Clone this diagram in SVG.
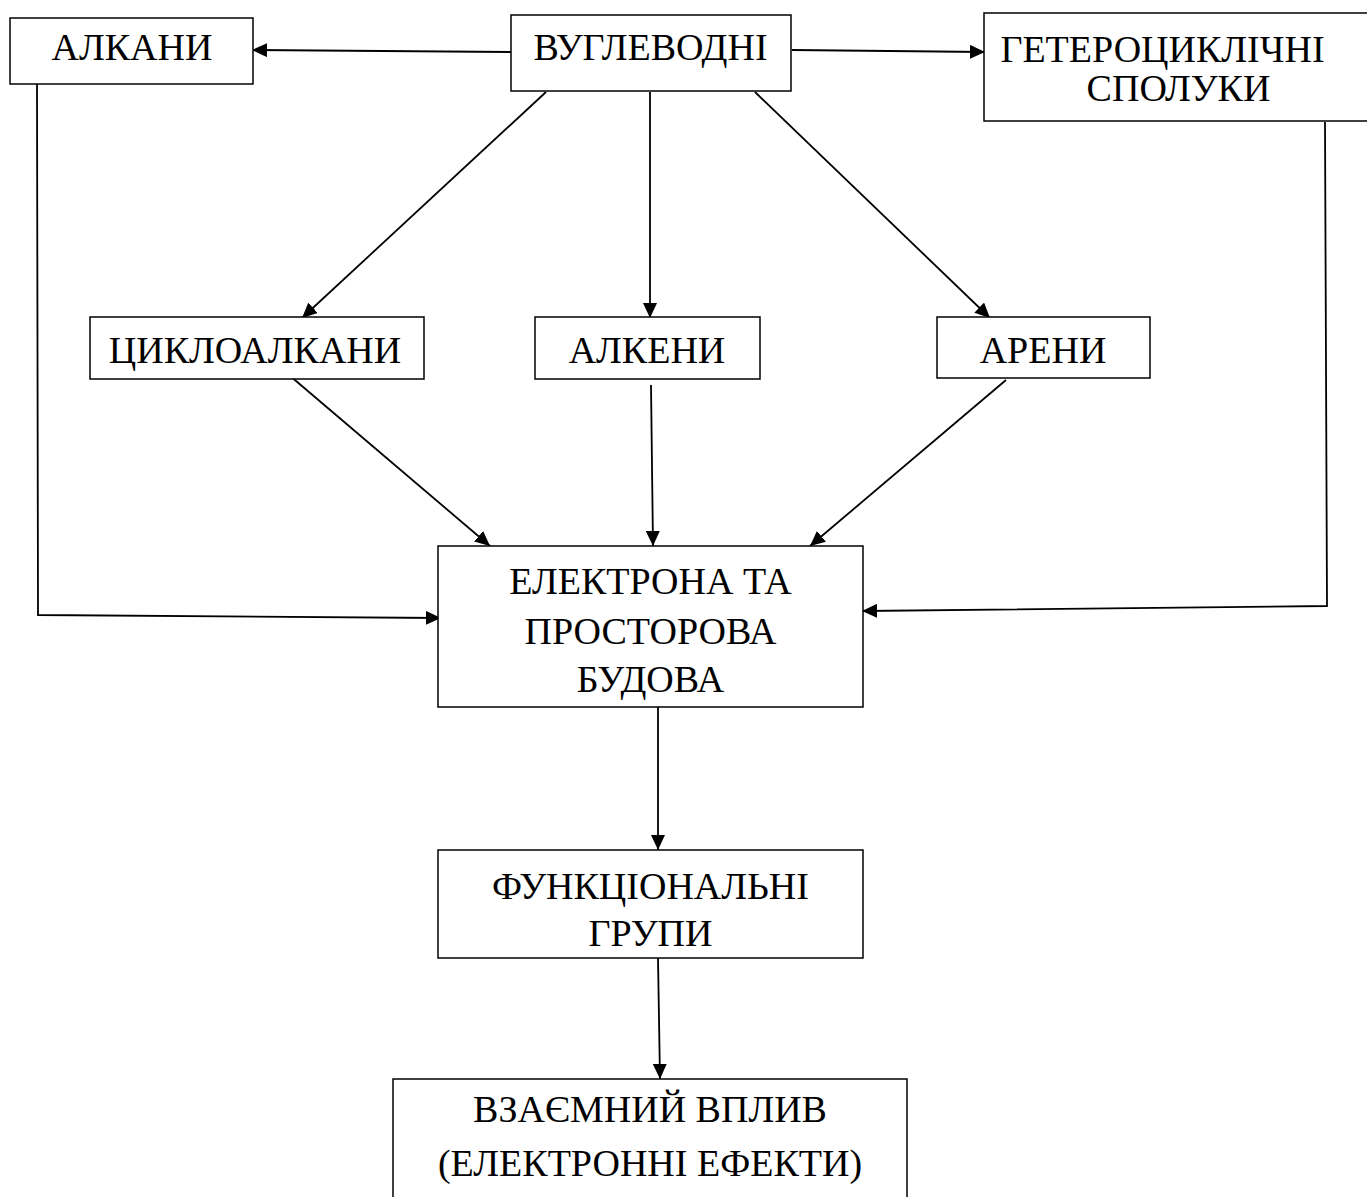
<svg xmlns="http://www.w3.org/2000/svg" width="1367" height="1197" viewBox="0 0 1367 1197">
<defs>
<marker id="ah" viewBox="0 0 15 14" refX="15" refY="7" markerWidth="15" markerHeight="14" markerUnits="userSpaceOnUse" orient="auto">
<path d="M0,0 L15,7 L0,14 Z" fill="#000"/>
</marker>
<style>
.box{fill:#fff;stroke:#000;stroke-width:1.5}
.t{font-family:"Liberation Serif","Times New Roman",serif;font-size:38px;fill:#000;text-anchor:middle}
.c{fill:none;stroke:#000;stroke-width:1.8}
.a{marker-end:url(#ah)}
</style>
</defs>
<rect width="1367" height="1197" fill="#fff"/>
<g id="connectors">
<line class="c a" x1="511" y1="52" x2="252" y2="50"/>
<line class="c a" x1="792" y1="50" x2="985" y2="52"/>
<line class="c a" x1="546" y1="92" x2="302" y2="318"/>
<line class="c a" x1="650" y1="92" x2="650" y2="318"/>
<line class="c a" x1="755" y1="92" x2="990" y2="318"/>
<line class="c a" x1="289" y1="375" x2="490" y2="546"/>
<line class="c a" x1="651" y1="385" x2="653" y2="546"/>
<line class="c a" x1="1006" y1="380" x2="810" y2="546"/>
<polyline class="c a" points="37,84 38,615 441,618"/>
<polyline class="c a" points="1325,122 1327,606 862,611"/>
<line class="c a" x1="658" y1="707" x2="658" y2="850"/>
<line class="c a" x1="658" y1="958" x2="660" y2="1079"/>
</g>
<g id="n-alkany"><rect class="box" x="10" y="18" width="243" height="66"/><text class="t" x="132" y="60">АЛКАНИ</text></g>
<g id="n-vuhlevodni"><rect class="box" x="511" y="15" width="280" height="76"/><text class="t" x="650.5" y="60">ВУГЛЕВОДНІ</text></g>
<g id="n-hetero"><rect class="box" x="984" y="13" width="390" height="108"/><text class="t" x="1162.5" y="62">ГЕТЕРОЦИКЛІЧНІ</text><text class="t" x="1178.5" y="101">СПОЛУКИ</text></g>
<g id="n-tsykloalkany"><rect class="box" x="90" y="317" width="334" height="62"/><text class="t" x="255" y="363">ЦИКЛОАЛКАНИ</text></g>
<g id="n-alkeny"><rect class="box" x="535" y="317" width="225" height="62"/><text class="t" x="647" y="363">АЛКЕНИ</text></g>
<g id="n-areny"><rect class="box" x="937" y="317" width="213" height="61"/><text class="t" x="1043" y="363">АРЕНИ</text></g>
<g id="n-budova"><rect class="box" x="438" y="546" width="425" height="161"/><text class="t" x="650.5" y="594">ЕЛЕКТРОНА ТА</text><text class="t" x="650.5" y="644">ПРОСТОРОВА</text><text class="t" x="650.5" y="692">БУДОВА</text></g>
<g id="n-funktsionalni"><rect class="box" x="438" y="850" width="425" height="108"/><text class="t" x="650.5" y="899">ФУНКЦІОНАЛЬНІ</text><text class="t" x="650.5" y="946">ГРУПИ</text></g>
<g id="n-vplyv"><rect class="box" x="393" y="1079" width="514" height="125"/><text class="t" x="650" y="1122">ВЗАЄМНИЙ ВПЛИВ</text><text class="t" x="650" y="1176">(ЕЛЕКТРОННІ ЕФЕКТИ)</text></g>
</svg>
